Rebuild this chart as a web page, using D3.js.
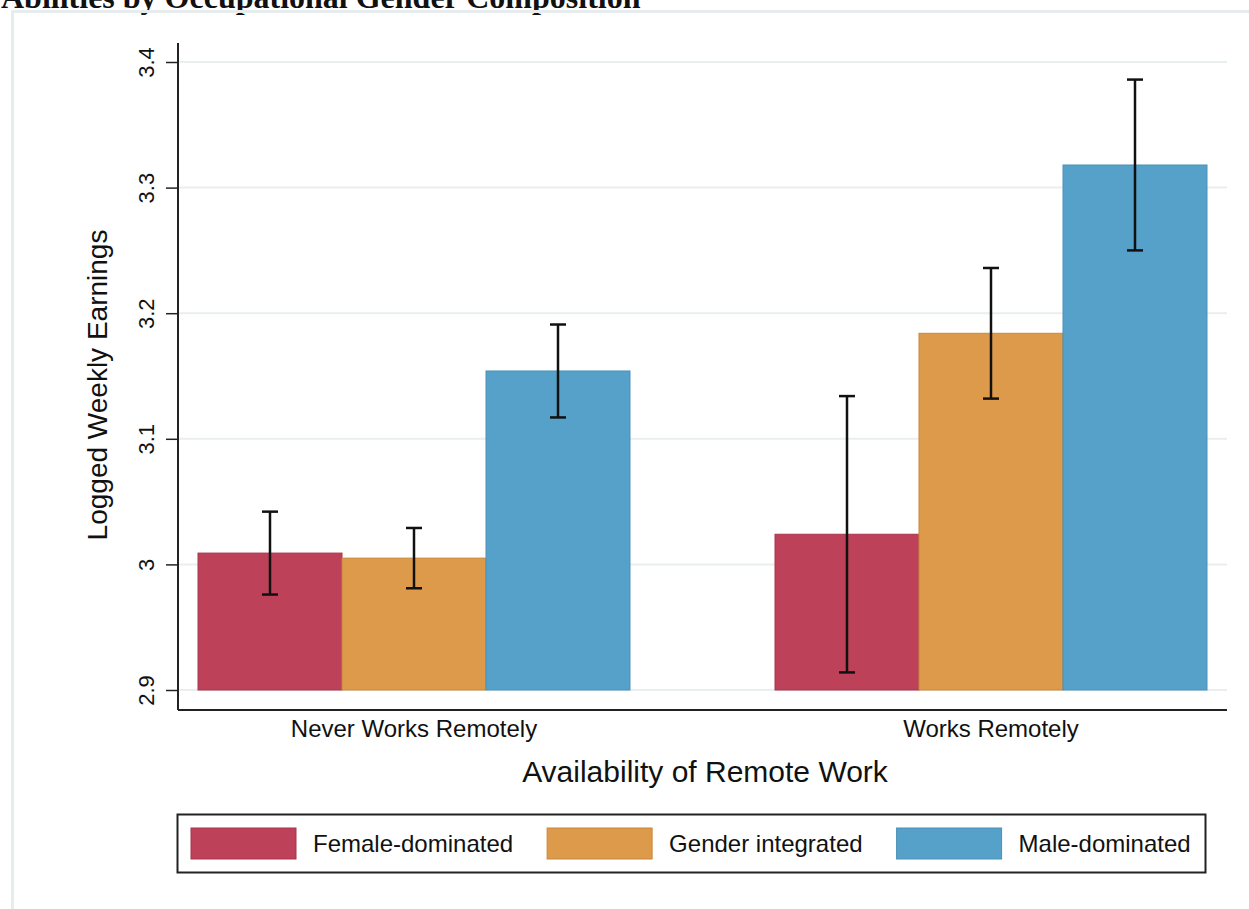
<!DOCTYPE html>
<html><head>
<meta charset="utf-8">
<script src="https://d3js.org/d3.v7.min.js"></script>
<style>
  body { margin: 0; background: #fff; }
  svg text { font-family: "Liberation Sans", Arial, sans-serif; fill: #111; }
</style>
</head>
<body>
<svg id="chart" width="1249" height="909"></svg>
<script>
// data
const groups = ["Never Works Remotely", "Works Remotely"];
const series = ["Female-dominated", "Gender integrated", "Male-dominated"];
const colors = ["#bd4159", "#de9a4b", "#56a1c9"];
const strokes = ["#a8344c", "#c9873a", "#4a91b8"];
// means, one array per series (by group)
const female = [3.009, 3.024];
const integrated = [3.005, 3.184];
const male = [3.154, 3.318];
// confidence limits
const femaleLo = [2.976, 2.914], femaleHi = [3.042, 3.134];
const integratedLo = [2.981, 3.132], integratedHi = [3.029, 3.236];
const maleLo = [3.117, 3.250], maleHi = [3.191, 3.386];
const yTicks = [2.9, 3.0, 3.1, 3.2, 3.3, 3.4];

const rows = [];
[[female, femaleLo, femaleHi], [integrated, integratedLo, integratedHi], [male, maleLo, maleHi]]
  .forEach((s, si) => {
    groups.forEach((g, gi) => {
      rows.push({group: g, series: series[si], si: si, v: s[0][gi], lo: s[1][gi], hi: s[2][gi]});
    });
  });

let svg = d3.select("svg#chart");

// title, mostly cut off at the top (as in the source picture)
svg.append("text")
   .attr("x", 1).attr("y", 8)
   .style("font-family", "'Liberation Serif', 'Times New Roman', serif")
   .style("font-weight", "bold")
   .style("font-size", "32px")
   .text("Abilities by Occupational Gender Composition");

// light outer frame
svg.append("rect")
   .attr("x", 12.5).attr("y", 11.5)
   .attr("width", 1260).attr("height", 920)
   .style("fill", "none")
   .style("stroke", "#e7ecee")
   .style("stroke-width", 3);

const axisX = 178, axisBottom = 710, axisTop = 43, axisRight = 1227;

let y = d3.scaleLinear().domain([2.9, 3.4]).range([690, 62]);
let x0 = d3.scaleBand().domain(groups).range([198, 1207]).paddingInner(0.2513).paddingOuter(0);
let x1 = d3.scaleBand().domain(series).range([0, x0.bandwidth()]).padding(0);

// gridlines
svg.selectAll("line.grid").data(yTicks).enter().append("line")
   .attr("class", "grid")
   .attr("x1", axisX).attr("x2", axisRight)
   .attr("y1", d => y(d)).attr("y2", d => y(d))
   .style("stroke", "#e9eef0")
   .style("stroke-width", 2);

// bars
svg.selectAll("rect.bar").data(rows).enter().append("rect")
   .attr("class", "bar")
   .attr("x", d => x0(d.group) + x1(d.series))
   .attr("y", d => y(d.v))
   .attr("width", x1.bandwidth())
   .attr("height", d => y(2.9) - y(d.v))
   .style("fill", d => colors[d.si])
   .style("stroke", d => strokes[d.si])
   .style("stroke-width", 1);

// error bars
const cap = 8;
rows.forEach(d => {
  let cx = x0(d.group) + x1(d.series) + x1.bandwidth() / 2;
  let g = svg.append("g").style("stroke", "#111").style("stroke-width", 2.5);
  g.append("line").attr("x1", cx).attr("x2", cx).attr("y1", y(d.lo)).attr("y2", y(d.hi));
  g.append("line").attr("x1", cx - cap).attr("x2", cx + cap).attr("y1", y(d.lo)).attr("y2", y(d.lo));
  g.append("line").attr("x1", cx - cap).attr("x2", cx + cap).attr("y1", y(d.hi)).attr("y2", y(d.hi));
});

// y axis
let yAxis = svg.append("g")
   .attr("transform", "translate(" + axisX + ",0)")
   .call(d3.axisLeft(y).tickValues(yTicks).tickSize(12).tickFormat(d => d === 3 ? "3" : d3.format(".1f")(d)));
yAxis.attr("font-size", null).attr("font-family", null);
yAxis.select(".domain").remove();
yAxis.selectAll(".tick line").style("stroke", "#222").style("stroke-width", 1.5);
yAxis.selectAll(".tick text")
   .attr("x", 0).attr("y", -24).attr("dy", 0)
   .attr("transform", "rotate(-90)")
   .attr("text-anchor", "middle")
   .attr("font-size", 22)
   .style("font-size", "22px")
   .style("fill", "#111");

// axis lines
svg.append("line").attr("x1", axisX).attr("x2", axisX).attr("y1", axisTop).attr("y2", axisBottom)
   .style("stroke", "#222").style("stroke-width", 2);
svg.append("line").attr("x1", axisX).attr("x2", axisRight).attr("y1", axisBottom).attr("y2", axisBottom)
   .style("stroke", "#222").style("stroke-width", 2);

// category labels
svg.selectAll("text.cat").data(groups).enter().append("text")
   .attr("class", "cat")
   .attr("x", d => x0(d) + x0.bandwidth() / 2)
   .attr("y", 737)
   .attr("text-anchor", "middle")
   .style("font-size", "24px")
   .text(d => d);

// axis titles
svg.append("text")
   .attr("x", 705).attr("y", 782)
   .attr("text-anchor", "middle")
   .style("font-size", "30px")
   .text("Availability of Remote Work");

svg.append("text")
   .attr("transform", "translate(107,385) rotate(-90)")
   .attr("text-anchor", "middle")
   .style("font-size", "28px")
   .text("Logged Weekly Earnings");

// legend
svg.append("rect")
   .attr("x", 177.5).attr("y", 814.5)
   .attr("width", 1028).attr("height", 58)
   .style("fill", "#fff")
   .style("stroke", "#222")
   .style("stroke-width", 2);

let lx = 191;
series.forEach((s, i) => {
  svg.append("rect")
     .attr("x", lx).attr("y", 828)
     .attr("width", 105).attr("height", 31)
     .style("fill", colors[i])
     .style("stroke", strokes[i])
     .style("stroke-width", 1);
  let t = svg.append("text")
     .attr("x", lx + 122).attr("y", 852)
     .style("font-size", "24px")
     .text(s);
  lx = lx + 122 + t.node().getComputedTextLength() + 34;
});
</script>
</body>
</html>
